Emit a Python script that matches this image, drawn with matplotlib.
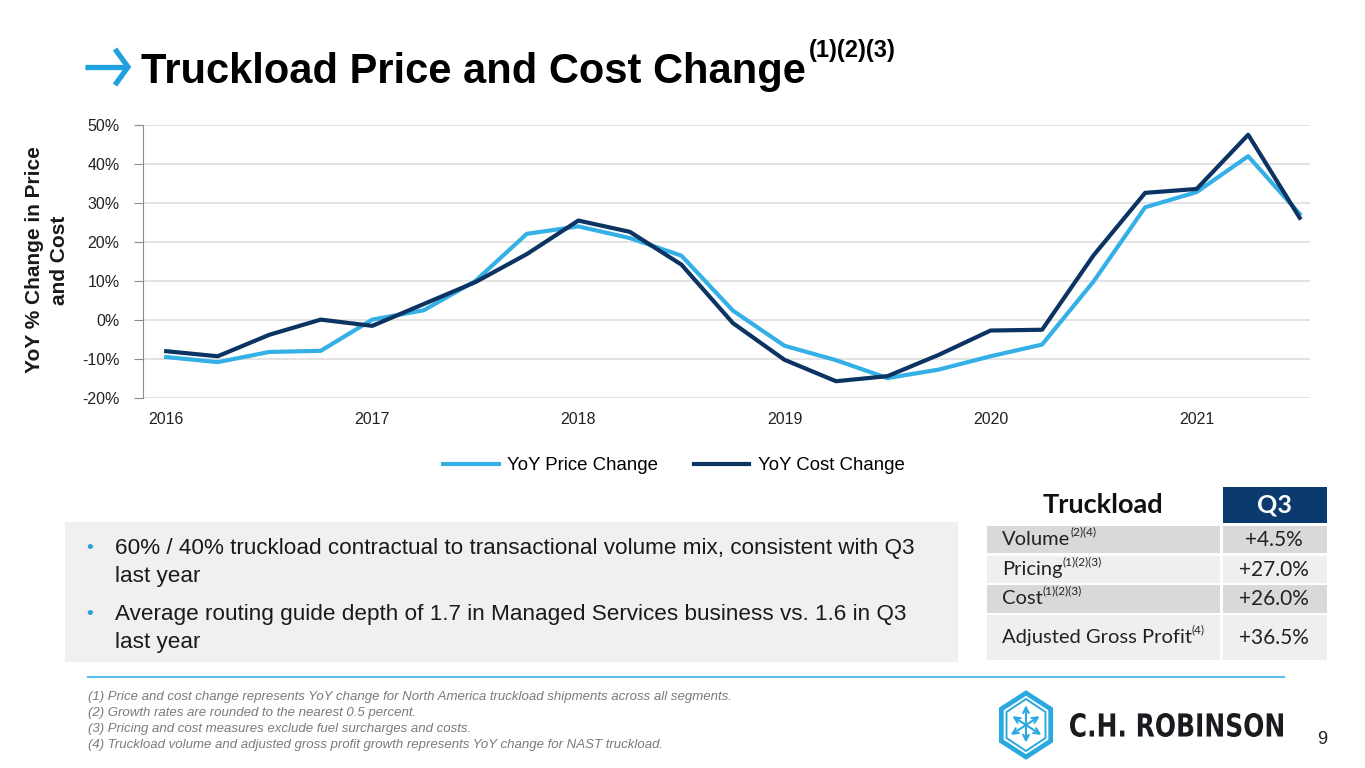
import numpy as np
import matplotlib.pyplot as plt
from matplotlib.patches import Rectangle, Polygon, PathPatch
from matplotlib.textpath import TextPath
from matplotlib.font_manager import FontProperties
from matplotlib.transforms import Affine2D

# quarterly YoY change, 2016 Q1 .. 2021 Q3
quarters = np.arange(23)
price_change = [-9.5, -10.8, -8.2, -7.9, 0.1, 2.5, 10.0, 22.1, 24.0, 21.0, 16.5, 2.4,
                -6.6, -10.3, -14.9, -12.7, -9.3, -6.3, 9.9, 28.9, 32.8, 42.0, 27.2]
cost_change = [-8.0, -9.3, -3.8, 0.1, -1.5, 4.1, 9.7, 16.9, 25.5, 22.6, 14.2, -0.8,
               -10.2, -15.7, -14.4, -8.9, -2.7, -2.5, 16.6, 32.6, 33.6, 47.5, 26.2]
year_labels = ['2016', '2017', '2018', '2019', '2020', '2021']
y_ticks = [-20, -10, 0, 10, 20, 30, 40, 50]

# side table
row_names = ['Volume', 'Pricing', 'Cost', 'Adjusted Gross Profit']
row_notes = ['(2)(4)', '(1)(2)(3)', '(1)(2)(3)', '(4)']
row_values = ['+4.5%', '+27.0%', '+26.0%', '+36.5%']

bullets = ['60% / 40% truckload contractual to transactional volume mix, consistent with Q3\nlast year',
           'Average routing guide depth of 1.7 in Managed Services business vs. 1.6 in Q3\nlast year']
footnotes = ['(1) Price and cost change represents YoY change for North America truckload shipments across all segments.',
             '(2) Growth rates are rounded to the nearest 0.5 percent.',
             '(3) Pricing and cost measures exclude fuel surcharges and costs.',
             '(4) Truckload volume and adjusted gross profit growth represents YoY change for NAST truckload.']

LIGHT = '#35b0e6'
NAVY = '#0b3463'
LOGO = '#2aa8e0'

plt.rcParams['font.family'] = ['Liberation Sans', 'DejaVu Sans']

W, H = 1365, 768
fig = plt.figure(figsize=(W / 100, H / 100), dpi=100)

# overlay in pixel coordinates for the slide furniture
deco = fig.add_axes([0, 0, 1, 1])
deco.set_xlim(0, W)
deco.set_ylim(H, 0)
deco.axis('off')

# chart
ax = fig.add_axes([143 / W, 1 - 398 / H, (1310 - 143) / W, (398 - 125) / H])
ax.plot(quarters, price_change, color=LIGHT, lw=3, label='YoY Price Change')
ax.plot(quarters, cost_change, color=NAVY, lw=3, label='YoY Cost Change')
ax.set_xlim(-0.45, 22.2)
ax.set_ylim(-20, 50)
ax.set_yticks(y_ticks)
ax.set_yticklabels([f'{v}%' for v in y_ticks], fontsize=11.5, color='#222222')
ax.set_xticks(np.arange(0, 24, 4))
ax.set_xticklabels(year_labels, fontsize=11.5, color='#222222')
ax.tick_params(axis='x', length=0, pad=10)
ax.tick_params(axis='y', length=6.5, color='#8c8c8c', pad=10.5)
ax.grid(axis='y', color='#dedede', lw=1.2)
ax.set_axisbelow(True)
for s in ['top', 'right', 'bottom']:
    ax.spines[s].set_visible(False)
ax.spines['left'].set_color('#8c8c8c')
ax.legend(loc='center', bbox_to_anchor=(0.4549, -0.249), ncol=2, frameon=False,
          fontsize=13.4, handlelength=3.0, columnspacing=1.9, handletextpad=0.45)

deco.text(47, 260, 'YoY % Change in Price\nand Cost', fontsize=15, fontweight='bold', rotation=90,
          ha='center', va='center', multialignment='center', color='#1a1a1a', linespacing=1.4)

# title with a drawn arrow
deco.plot([85, 126], [67, 67], color='#1fa1e0', lw=3.8, solid_capstyle='butt')
deco.plot([115, 128, 115], [49, 67, 85], color='#1fa1e0', lw=3.8,
          solid_joinstyle='miter', solid_capstyle='butt')
fig.canvas.draw()
renderer = fig.canvas.get_renderer()
title = deco.text(141, 83, 'Truckload Price and Cost Change', fontsize=30, fontweight='bold',
                  va='baseline', ha='left', color='black')
tx = title.get_window_extent(renderer).x1
deco.text(tx + 3, 51, '(1)(2)(3)', fontsize=17, fontweight='bold', va='center', ha='left', color='black')

# bullet box
deco.add_patch(Rectangle((65, 522), 893, 140, color='#f0f0f0', lw=0))
for y, t in zip([562.5, 628.5], bullets):
    deco.text(86, y - 14, '\u2022', fontsize=14, color='#2a9fd8', va='center')
    deco.text(115, y, t, fontsize=16.2, va='center', color='#1a1a1a', linespacing=1.38)

# table
tfont = ['Lato', 'DejaVu Sans']
deco.text(1103, 505, 'Truckload', fontsize=19.5, fontweight='bold', family=tfont,
          ha='center', va='center', color='#111111')
deco.add_patch(Rectangle((1223, 487), 104, 36, color='#0a3a6e', lw=0))
deco.text(1274, 505, 'Q3', fontsize=18, fontweight='bold', family=tfont,
          ha='center', va='center', color='white')
row_top = [526, 556, 585, 615]
row_h = [27, 27, 28, 45]
row_col = ['#d9d9d9', '#efefef', '#d9d9d9', '#efefef']
for top, h, c, name, note, val in zip(row_top, row_h, row_col, row_names, row_notes, row_values):
    deco.add_patch(Rectangle((987, top), 233, h, color=c, lw=0))
    deco.add_patch(Rectangle((1223, top), 104, h, color=c, lw=0))
    yc = top + h / 2
    t = deco.text(1002, yc, name, fontsize=14.5, family=tfont, va='center', ha='left', color='#222222')
    x_end = t.get_window_extent(renderer).x1
    deco.text(x_end, yc - 8, note, fontsize=8.5, family=tfont, va='center', ha='left', color='#222222')
    deco.text(1274, yc, val, fontsize=15, family=tfont, va='center', ha='center', color='#222222')

# footnotes
deco.plot([88, 1284], [677, 677], color='#5bc0eb', lw=1.5)
for i, f in enumerate(footnotes):
    deco.text(88, 697 + i * 16, f, fontsize=9.5, style='italic', color='#7a7a7a', va='center')

# logo
cx, cy, ry, rx = 1026, 725, 32, 28.5
ang = np.deg2rad(np.arange(90, 450, 60))
outer = np.c_[cx + rx * np.cos(ang), cy - ry * np.sin(ang)]
inner = np.c_[cx + (rx - 6) * np.cos(ang), cy - (ry - 6) * np.sin(ang)]
deco.add_patch(Polygon(outer, closed=True, fill=False, ec=LOGO, lw=3.4, joinstyle='miter'))
deco.add_patch(Polygon(inner, closed=True, fill=False, ec=LOGO, lw=1.4, joinstyle='miter'))
for k, a in enumerate(ang):
    f = 0.62 if k % 2 == 0 else 0.55
    deco.annotate('', xy=(cx + rx * f * np.cos(a), cy - ry * f * np.sin(a)), xytext=(cx, cy),
                  arrowprops=dict(arrowstyle='->', color=LOGO, lw=1.5, shrinkA=0, shrinkB=0))

tp = TextPath((0, 0), 'C.H. ROBINSON', size=1, prop=FontProperties(family='DejaVu Sans', weight='bold'))
ext = tp.get_extents()
tr = Affine2D().translate(-ext.x0, -ext.y0).scale(213 / ext.width, -24 / ext.height).translate(1070, 737)
deco.add_patch(PathPatch(tr.transform_path(tp), color='#1b1b1f', lw=0))
deco.text(1322, 740, '9', fontsize=13, va='center', ha='center', color='#222222')

fig.savefig('out.png', dpi=100)
